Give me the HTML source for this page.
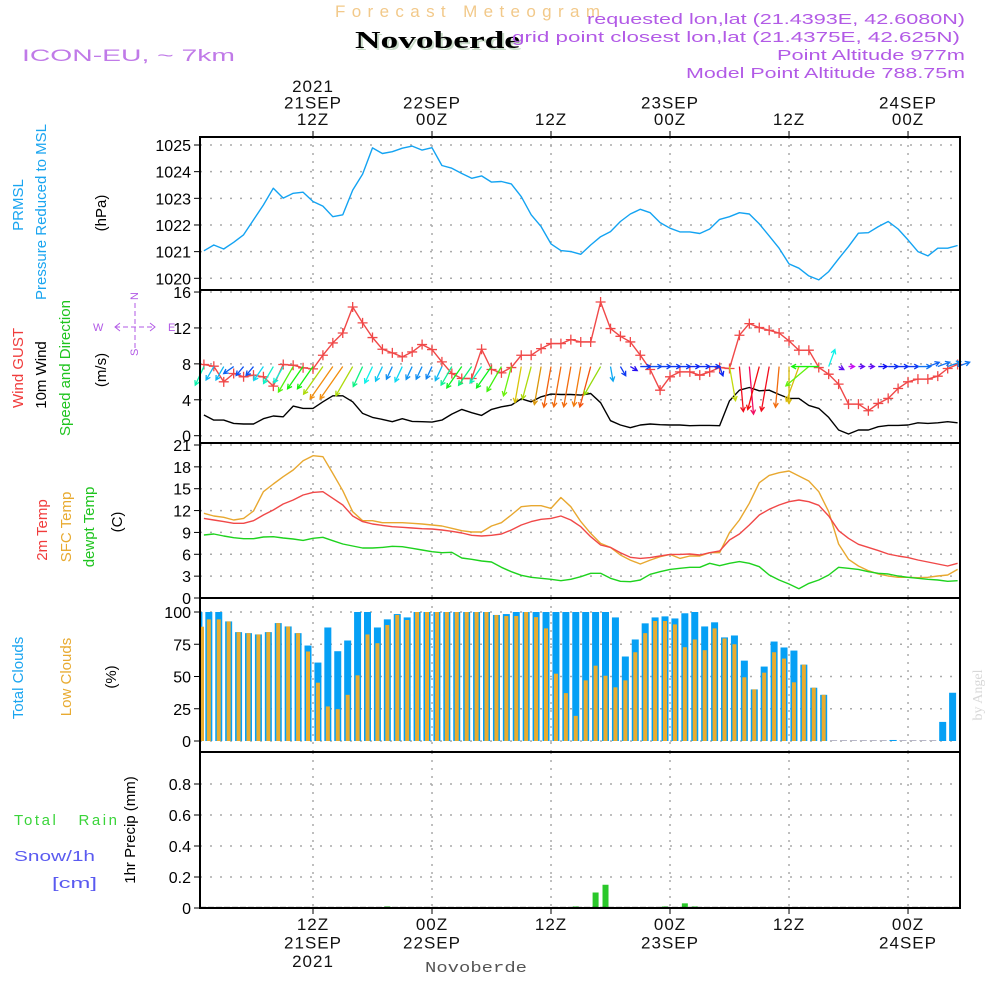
<!DOCTYPE html>
<html><head><meta charset="utf-8"><title>Forecast Meteogram Novoberde</title>
<style>
html,body{margin:0;padding:0;background:#fff;}
svg{display:block;font-family:"Liberation Sans",sans-serif;}
</style></head>
<body>
<svg id="chart" width="1000" height="1000" viewBox="0 0 1000 1000" xmlns="http://www.w3.org/2000/svg">
<rect width="1000" height="1000" fill="#fff"/>
<text x="335" y="17" font-size="17" fill="#f2c98a" textLength="265" lengthAdjust="spacing">Forecast Meteogram</text>
<text x="357" y="50" font-size="24" font-weight="bold" font-family="Liberation Serif,serif" fill="#c9dcc9" textLength="165" lengthAdjust="spacingAndGlyphs">Novoberde</text>
<text x="355" y="48" font-size="24" font-weight="bold" font-family="Liberation Serif,serif" fill="#000" textLength="165" lengthAdjust="spacingAndGlyphs">Novoberde</text>
<text x="22" y="61" font-size="17" fill="#c07ae8" textLength="213" lengthAdjust="spacingAndGlyphs">ICON-EU, ~ 7km</text>
<g font-size="15" fill="#b25ae6">
<text x="587" y="24" textLength="378" lengthAdjust="spacingAndGlyphs">requested lon,lat (21.4393E, 42.6080N)</text>
<text x="512" y="42" textLength="448" lengthAdjust="spacingAndGlyphs">grid point closest lon,lat (21.4375E, 42.625N)</text>
<text x="777" y="60" textLength="188" lengthAdjust="spacingAndGlyphs">Point Altitude 977m</text>
<text x="686" y="78" textLength="279" lengthAdjust="spacingAndGlyphs">Model Point Altitude 788.75m</text>
</g>
<g id="panels"></g>
<g id="left-labels" font-size="15">
<text transform="translate(23,205) rotate(-90)" text-anchor="middle" fill="#1aa5f0">PRMSL</text>
<text transform="translate(46,212) rotate(-90)" text-anchor="middle" fill="#1aa5f0">Pressure Reduced to MSL</text>
<text transform="translate(106,213) rotate(-90)" text-anchor="middle" fill="#000">(hPa)</text>
<text transform="translate(23,368) rotate(-90)" text-anchor="middle" fill="#f03c3c">Wind GUST</text>
<text transform="translate(46,375) rotate(-90)" text-anchor="middle" fill="#000">10m Wind</text>
<text transform="translate(70,368) rotate(-90)" text-anchor="middle" fill="#1fc41f">Speed and Direction</text>
<text transform="translate(106,370) rotate(-90)" text-anchor="middle" fill="#000">(m/s)</text>
<text transform="translate(47,530) rotate(-90)" text-anchor="middle" fill="#f03c3c">2m Temp</text>
<text transform="translate(71,527) rotate(-90)" text-anchor="middle" fill="#e8aa30">SFC Temp</text>
<text transform="translate(94,527) rotate(-90)" text-anchor="middle" fill="#1fc41f">dewpt Temp</text>
<text transform="translate(122,522) rotate(-90)" text-anchor="middle" fill="#000">(C)</text>
<text transform="translate(23,678) rotate(-90)" text-anchor="middle" fill="#1aa5f0">Total Clouds</text>
<text transform="translate(71,677) rotate(-90)" text-anchor="middle" fill="#e8aa30">Low Clouds</text>
<text transform="translate(116,677) rotate(-90)" text-anchor="middle" fill="#000">(%)</text>
<text x="14" y="825" fill="#3ad43a" textLength="103" lengthAdjust="spacing" xml:space="preserve">Total   Rain</text>
<text x="14" y="861" fill="#5a5af0" textLength="81" lengthAdjust="spacingAndGlyphs">Snow/1h</text>
<text x="52" y="888" fill="#5a5af0" textLength="45" lengthAdjust="spacingAndGlyphs">[cm]</text>
<text transform="translate(135,830) rotate(-90)" text-anchor="middle" fill="#000">1hr Precip (mm)</text>
</g>
<g id="compass" fill="#b25ae6" font-size="11">
<text x="93" y="331">W</text><text x="168" y="331">E</text>
<text x="130" y="300" transform="rotate(-90,134,296)">N</text>
<text x="130" y="356" transform="rotate(-90,134,352)">S</text>
<line x1="115" y1="327" x2="155" y2="327" stroke="#b25ae6" stroke-dasharray="5,3"/>
<line x1="135" y1="303" x2="135" y2="349" stroke="#b25ae6" stroke-dasharray="5,3"/>
<polyline points="120,323 115,327 120,331" fill="none" stroke="#b25ae6"/>
<polyline points="150,323 155,327 150,331" fill="none" stroke="#b25ae6"/>
</g>
<text transform="translate(982,695) rotate(-90)" text-anchor="middle" font-size="14" font-family="Liberation Serif,serif" fill="#d8d8d8">by Angel</text>
<text x="425" y="972" font-size="15" font-family="Liberation Mono,monospace" fill="#555" textLength="102" lengthAdjust="spacingAndGlyphs">Novoberde</text>
</svg>
<script>
// ---- data (hourly, hour index t from 00Z 21SEP) ----
const startHour = 1;
const pressure = [1021.03,1021.25,1021.1,1021.35,1021.63,1022.19,1022.75,1023.38,1023.01,1023.19,1023.23,1022.88,1022.71,1022.31,1022.38,1023.31,1023.91,1024.89,1024.68,1024.75,1024.88,1024.96,1024.81,1024.9,1024.23,1024.13,1023.93,1023.75,1023.84,1023.61,1023.63,1023.54,1023.06,1022.38,1021.94,1021.29,1021.04,1021.0,1020.9,1021.25,1021.56,1021.75,1022.13,1022.41,1022.59,1022.46,1022.09,1021.88,1021.74,1021.74,1021.68,1021.85,1022.21,1022.31,1022.46,1022.41,1022.04,1021.59,1021.13,1020.54,1020.38,1020.09,1019.94,1020.25,1020.73,1021.19,1021.69,1021.71,1021.94,1022.13,1021.85,1021.44,1021.0,1020.84,1021.13,1021.13,1021.23];
const gust = [7.93,7.74,6.0,6.93,6.56,6.74,6.56,5.52,7.93,7.85,7.56,7.44,8.96,10.33,11.44,14.33,12.56,10.93,9.63,9.22,8.78,9.33,10.15,9.59,8.22,6.93,6.37,6.37,9.63,7.37,7.0,7.59,8.96,8.96,9.7,10.26,10.26,10.7,10.44,10.44,14.89,11.93,11.07,10.44,8.96,7.37,5.07,6.56,7.11,7.11,6.74,7.11,7.59,7.48,11.19,12.48,12.04,11.74,11.44,10.56,9.52,9.52,7.59,6.85,5.74,3.52,3.52,2.78,3.59,4.15,5.26,6.0,6.3,6.3,6.63,7.48,7.93];
const windSpeed = [2.3,1.74,1.74,1.37,1.3,1.3,1.89,2.19,2.11,3.3,3.04,3.04,3.78,4.44,4.44,3.78,2.48,2.04,1.81,1.56,1.89,1.59,1.56,1.52,1.74,2.41,2.93,2.56,2.26,2.93,3.22,3.41,4.11,3.78,4.33,4.63,4.59,4.59,4.52,4.7,3.67,1.67,1.19,0.89,1.19,1.3,1.22,1.19,1.19,1.11,1.15,1.15,1.11,3.89,5.07,5.37,5.0,5.07,4.59,4.15,4.15,3.37,3.04,2.04,0.63,0.19,0.63,0.63,1.0,1.15,1.15,1.19,1.44,1.37,1.44,1.56,1.44];
const windDir = [25,30,30,55,40,40,35,30,30,30,35,35,35,35,35,30,25,25,25,25,25,25,25,25,25,30,35,35,35,35,30,15,10,15,10,10,10,10,10,15,30,350,330,300,270,270,270,270,270,270,270,270,340,350,355,355,15,10,5,0,20,50,90,200,300,270,270,270,270,270,270,270,270,250,250,250,250];
const tempSfc = [11.62,11.25,11.07,10.7,10.93,11.94,14.59,15.64,16.65,17.57,18.85,19.53,19.4,17.1,14.73,11.85,10.61,10.61,10.34,10.34,10.34,10.25,10.16,10.02,9.88,9.56,9.24,9.06,9.06,9.88,10.34,11.39,12.53,12.67,12.67,12.3,13.8,12.53,10.48,8.87,7.5,6.95,5.9,5.2,4.67,5.2,5.67,5.99,5.44,5.76,5.76,6.22,6.22,8.97,10.7,13.0,15.83,16.83,17.2,17.43,16.74,16.06,14.59,11.85,7.41,5.31,4.39,3.75,3.29,3.02,2.84,2.84,2.79,2.84,3.02,3.16,3.93];
const temp2m = [10.93,10.7,10.48,10.25,10.25,10.61,11.39,12.08,12.9,13.45,14.14,14.5,14.59,13.68,12.76,11.25,10.48,10.16,9.97,9.79,9.7,9.61,9.51,9.47,9.33,9.15,8.92,8.6,8.51,8.6,8.78,9.33,10.02,10.48,10.8,10.93,11.25,10.7,9.79,8.42,7.27,6.95,6.22,5.58,5.44,5.54,5.76,5.99,5.99,6.04,5.9,6.22,6.45,7.96,8.78,10.02,11.39,12.17,12.76,13.22,13.45,13.22,12.72,11.25,9.24,8.19,7.37,6.95,6.5,6.04,5.76,5.54,5.22,4.94,4.67,4.39,4.76];
const dewpoint = [8.65,8.78,8.51,8.28,8.14,8.14,8.37,8.42,8.23,8.1,7.91,8.19,8.33,7.87,7.41,7.14,6.86,6.86,6.95,7.09,7.04,6.82,6.59,6.36,6.22,6.27,5.49,5.31,5.08,4.94,4.21,3.61,3.11,2.84,2.7,2.56,2.38,2.56,2.93,3.39,3.39,2.7,2.29,2.24,2.47,3.25,3.61,3.93,4.07,4.21,4.21,4.76,4.44,4.76,4.99,4.76,4.3,3.16,2.47,1.92,1.28,2.01,2.47,3.16,4.21,4.07,3.93,3.61,3.39,3.29,3.02,2.84,2.7,2.56,2.47,2.29,2.38];
const totalClouds = [100,100,100,92.7,84.4,83.6,82.6,84.4,91.4,88.8,83.6,74,60.8,88,69.6,77.9,100,100,88,94.3,98.4,95.8,100,100,100,100,100,100,100,100,97.7,98.4,100,100,100,100,100,100,100,100,100,100,95.8,65.5,78.7,91.2,95.8,96.6,95,99,100,88.8,92,80.3,81.8,62.3,40,57.7,77.1,72.5,70.1,59.2,41.3,35.8,0,0,0,0,0,0,0.8,0,0,0,0,14.8,37.4];
const lowClouds = [88.6,94.3,94.3,92.7,84.4,83.6,82.6,84.4,91.4,88.8,83.6,69.4,45.2,26.8,24.7,35.8,50.9,82.6,75.8,89.9,97.7,93.8,100,100,100,100,100,100,100,100,97.7,96.9,96.9,100,96,87.3,52.2,37.1,19.5,47,58.4,50.6,41.6,47,68.8,83.6,93,93,90.4,72.7,78.7,70.4,87.3,79.5,75,49.4,40,53,68.8,63.9,45.5,59.2,41.3,35.8,0,0,0,0,0,0,0,0,0,0,0,0,0];
const precip = [0,0,0,0,0,0,0,0,0,0,0,0,0,0,0,0,0,0,0,0.01,0,0,0,0,0,0,0,0,0,0,0,0,0,0,0,0,0,0,0.01,0,0.1,0.15,0,0,0,0,0,0.01,0,0.03,0.01,0,0,0,0,0,0,0,0,0,0,0,0,0,0,0,0,0,0,0,0,0,0,0,0,0,0];
const pressTicks = [1020,1021,1022,1023,1024,1025];
const windTicks = [0,4,8,12,16];
const tempTicks = [0,3,6,9,12,15,18,21];
const cloudTicks = [0,25,50,75,100];
const precipTicks = [0,0.2,0.4,0.6,0.8];
const precipTickLabels = ["0","0.2","0.4","0.6","0.8"];
const timeTickHours = [12,24,36,48,60,72];
const topTimeLabels = [["2021","21SEP","12Z"],["","22SEP","00Z"],["","","12Z"],["","23SEP","00Z"],["","","12Z"],["","24SEP","00Z"]];
const bottomTimeLabels = [["12Z","21SEP","2021"],["00Z","22SEP",""],["12Z","",""],["00Z","23SEP",""],["12Z","",""],["00Z","24SEP",""]];

// ---- axes ----
const X0 = 200, X1 = 960;
const xT = t => 313 + (t - 12) * 9.917;
const yP = v => 278.3 - (v - 1020) * 26.66;
const yW = v => 435.7 - v * 8.98;
const yT = v => 598 - v * 7.286;
const yC = v => 741 - v * 1.29;
const yR = v => 908 - v * 155;

const NS = "http://www.w3.org/2000/svg";
const root = document.getElementById('panels');
function mk(tag, attrs, parent) {
  const e = document.createElementNS(NS, tag);
  for (const k in attrs) e.setAttribute(k, attrs[k]);
  (parent || root).appendChild(e);
  return e;
}

function panel(name, top, bottom, ticks, labels, yf) {
  const g = mk('g', {});
  
  
  ticks.forEach((v, i) => {
    const y = yf(v);
    const gl = mk('line', {x1: X0, x2: X1, y1: y, y2: y, stroke: '#aaa', 'stroke-dasharray': '2,8', 'stroke-width': 1.5}, g);
    
    
    mk('line', {x1: X0 - 6, x2: X0, y1: y, y2: y, stroke: '#000'}, g);
    const tx = mk('text', {x: X0 - 9, y: y + 6, 'text-anchor': 'end', 'font-size': 16, fill: '#000'}, g);
    tx.textContent = labels[i];
    
    
  });
  timeTickHours.forEach(t => {
    const x = xT(t);
    mk('line', {x1: x, x2: x, y1: top, y2: bottom, stroke: '#aaa', 'stroke-dasharray': '2,6', 'stroke-width': 1.5}, g);
  });
  return g;
}
panel('pressure', 137, 290, pressTicks, pressTicks.map(String), yP);
panel('wind', 290, 443, windTicks, windTicks.map(String), yW);
panel('temperature', 443, 598, tempTicks, tempTicks.map(String), yT);
panel('clouds', 598, 752, cloudTicks, cloudTicks.map(String), yC);
panel('precip', 752, 908, precipTicks, precipTickLabels, yR);

function line(arr, yf, color, name) {
  const pts = arr.map((v, i) => xT(startHour + i).toFixed(1) + ',' + yf(v).toFixed(1)).join(' ');
  const p = mk('polyline', {points: pts, fill: 'none', stroke: color, 'stroke-width': 1.4, 'stroke-linejoin': 'round'});
  
  
}

// clouds bars
totalClouds.forEach((v, i) => {
  const cx = xT(startHour + i) - 5;
  if (v > 0) {
    const r = mk('rect', {x: Math.max(X0, cx - 3.5), y: yC(v), width: Math.min(7, cx + 3.5 - X0), height: yC(0) - yC(v), fill: '#06a0f5'});
    
    
  }
  const lv = lowClouds[i];
  if (lv > 0) {
    const r2 = mk('rect', {x: Math.max(X0, cx - 2), y: yC(lv), width: 4, height: yC(0) - yC(lv), fill: '#e8ac30'});
    
    
  }
  if (v <= 1) mk('line', {x1: cx - 3.5, x2: cx + 3.5, y1: yC(0) - 0.5, y2: yC(0) - 0.5, stroke: v > 0 ? '#06a0f5' : '#b8b8c8'});
});

// precip bars
precip.forEach((v, i) => {
  if (v <= 0) return;
  const cx = xT(startHour + i) - 5;
  const r = mk('rect', {x: cx - 3, y: yR(v), width: 6, height: yR(0) - yR(v), fill: '#2ac82a'});
  
  
});
mk('line', {x1: X0, x2: X1, y1: 907.5, y2: 907.5, stroke: '#000', 'stroke-dasharray': '6,2', 'stroke-width': 1.2});

line(pressure, yP, '#13a3f2', 'pressure-line');
line(windSpeed, yW, '#000', 'wind-speed-line');
line(gust, yW, '#f04848', 'gust-line');
gust.forEach((v, i) => {
  const x = xT(startHour + i), y = yW(v);
  const m = mk('path', {d: `M${x-5},${y}H${x+5}M${x},${y-5}V${y+5}`, stroke: '#f04848', 'stroke-width': 1.3});
  
  
});

// wind arrows: direction = "from" degrees, length and colour from speed
windDir.forEach((d, i) => {
  const s = windSpeed[i];
  const hue = ((270 - 60 * (s - 0.5)) % 360 + 360) % 360;
  const col = `hsl(${hue},90%,${hue > 40 && hue < 80 ? 45 : 50}%)`;
  const x = xT(startHour + i), y = yW(7.7);
  const rad = d * Math.PI / 180;
  const ux = -Math.sin(rad), uy = Math.cos(rad);
  const L = Math.max(6, s * 8.9);
  const ex = x + ux * L, ey = y + uy * L;
  const h = 5, a = 0.5;
  const h1x = ex - h * (ux * Math.cos(a) - uy * Math.sin(a)), h1y = ey - h * (uy * Math.cos(a) + ux * Math.sin(a));
  const h2x = ex - h * (ux * Math.cos(a) + uy * Math.sin(a)), h2y = ey - h * (uy * Math.cos(a) - ux * Math.sin(a));
  const p = mk('path', {d: `M${x},${y}L${ex},${ey}M${h1x},${h1y}L${ex},${ey}L${h2x},${h2y}`, stroke: col, 'stroke-width': 1.3, fill: 'none'});
  
  
});

line(tempSfc, yT, '#e8a830', 'sfc-temp-line');
line(temp2m, yT, '#f04848', 'temp-2m-line');
line(dewpoint, yT, '#1ed21e', 'dewpoint-line');

// frames
[[137,290],[290,443],[443,598],[598,752],[752,908]].forEach(([a, b]) => {
  const f = mk('rect', {x: X0, y: a, width: X1 - X0, height: b - a, fill: 'none', stroke: '#000', 'stroke-width': 2});
  
  
});

// time labels
timeTickHours.forEach((t, i) => {
  const x = xT(t);
  mk('line', {x1: x, x2: x, y1: 131, y2: 137, stroke: '#000'});
  mk('line', {x1: x, x2: x, y1: 908, y2: 914, stroke: '#000'});
  topTimeLabels[i].forEach((s, j) => {
    if (!s) return;
    const tx = mk('text', {x: x, y: 92 + j * 16.5, 'text-anchor': 'middle', 'font-size': 17, 'letter-spacing': 1, fill: '#111'});
    tx.textContent = s;
    
    
  });
  bottomTimeLabels[i].forEach((s, j) => {
    if (!s) return;
    const tx = mk('text', {x: x, y: 930 + j * 18.5, 'text-anchor': 'middle', 'font-size': 17, 'letter-spacing': 1, fill: '#111'});
    tx.textContent = s;
    
    
  });
});
</script>
</body></html>
